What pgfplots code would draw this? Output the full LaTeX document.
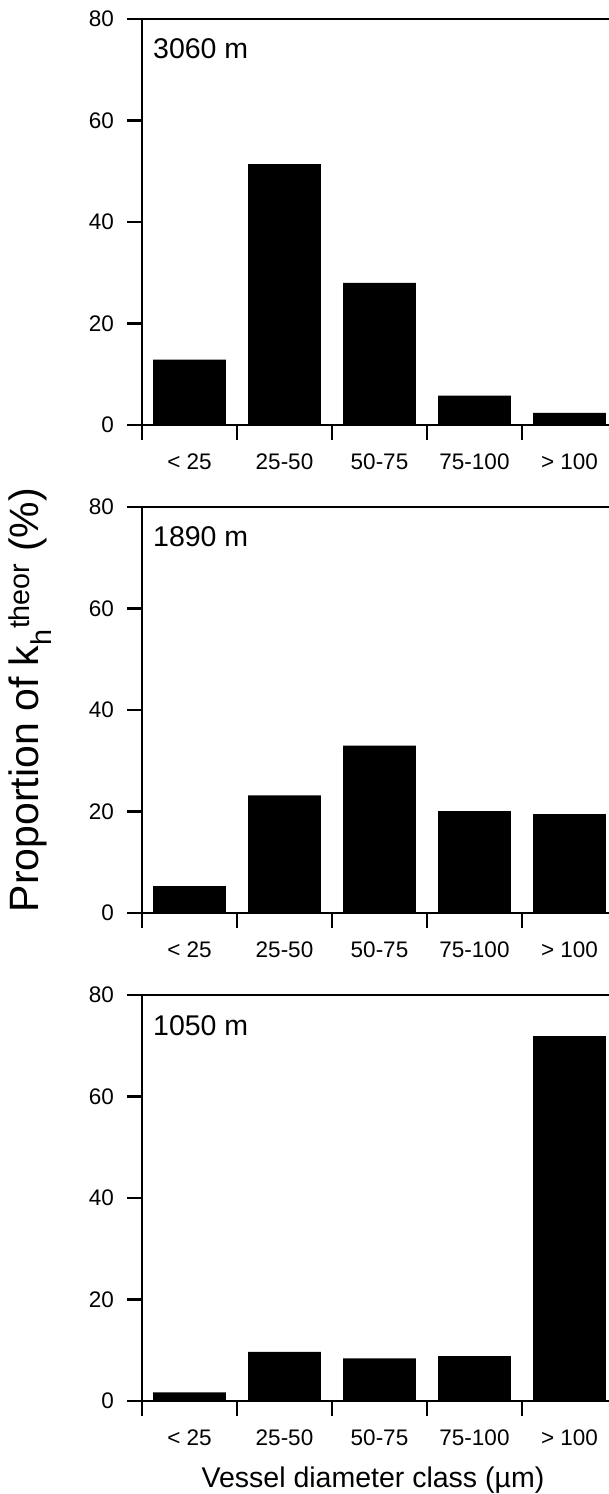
\documentclass[border=0pt]{standalone}
\usepackage{pgfplots}
\pgfplotsset{compat=1.18}
\usepackage{fontspec}
\setmainfont{Liberation Sans}

\pgfplotstableread{
x y
0 12.9
1 51.4
2 28.0
3 5.8
4 2.4
}\tabA
\pgfplotstableread{
x y
0 5.3
1 23.2
2 33.0
3 20.1
4 19.5
}\tabB
\pgfplotstableread{
x y
0 1.7
1 9.7
2 8.4
3 8.85
4 71.9
}\tabC

\pgfplotsset{panel/.style={
  scale only axis, width=470.25bp, height=406bp,
  xmin=-0.5, xmax=4.45, ymin=0, ymax=80,
  anchor=south west,
  ybar, bar width=0.766,
  axis line style={line width=2.2bp, black},
  tick style={line width=2.2bp, black},
  major tick length=15bp,
  tick align=outside,
  tick pos=left,
  ytick={0,20,40,60,80},
  /pgf/number format/assume math mode=true,
  ticklabel style={font=\fontsize{22.5bp}{27bp}\selectfont},
  yticklabel style={anchor=east, inner sep=0pt, xshift=-13bp},
  xtick={-0.5,0.5,1.5,2.5,3.5,4.5},
  xticklabels={},
  extra x ticks={0,1,2,3,4},
  extra x tick labels={{< 25},{25-50},{50-75},{75-100},{> 100}},
  extra x tick style={major tick length=0pt, tick style={draw=none},
     xticklabel style={anchor=north, inner sep=0pt, yshift=-29bp}},
}}

\begin{document}
\begin{tikzpicture}
\useasboundingbox (0bp,0bp) rectangle (609bp,-1494bp);

\begin{axis}[panel, at={(142bp,-425bp)}]
\addplot[fill=black, draw=none] table[x=x,y=y] {\tabA};
\node[anchor=west, inner sep=0pt, font=\fontsize{28.5bp}{30bp}\selectfont] at (axis description cs:0.0234,0.927) {3060 m};
\end{axis}

\begin{axis}[panel, at={(142bp,-913bp)}]
\addplot[fill=black, draw=none] table[x=x,y=y] {\tabB};
\node[anchor=west, inner sep=0pt, font=\fontsize{28.5bp}{30bp}\selectfont] at (axis description cs:0.0234,0.927) {1890 m};
\end{axis}

\begin{axis}[panel, at={(142bp,-1401bp)}]
\addplot[fill=black, draw=none] table[x=x,y=y] {\tabC};
\node[anchor=west, inner sep=0pt, font=\fontsize{28.5bp}{30bp}\selectfont] at (axis description cs:0.0234,0.924) {1050 m};
\end{axis}

\node[anchor=base, inner sep=0pt, font=\fontsize{28.5bp}{30bp}\selectfont] at (373bp,-1487bp) {Vessel diameter class (µm)};
\node[rotate=90, inner sep=0pt, font=\fontsize{41bp}{46bp}\selectfont] at (30bp,-700bp) {Proportion of k\textsubscript{h}\textsuperscript{theor} (\%)};
\end{tikzpicture}
\end{document}
